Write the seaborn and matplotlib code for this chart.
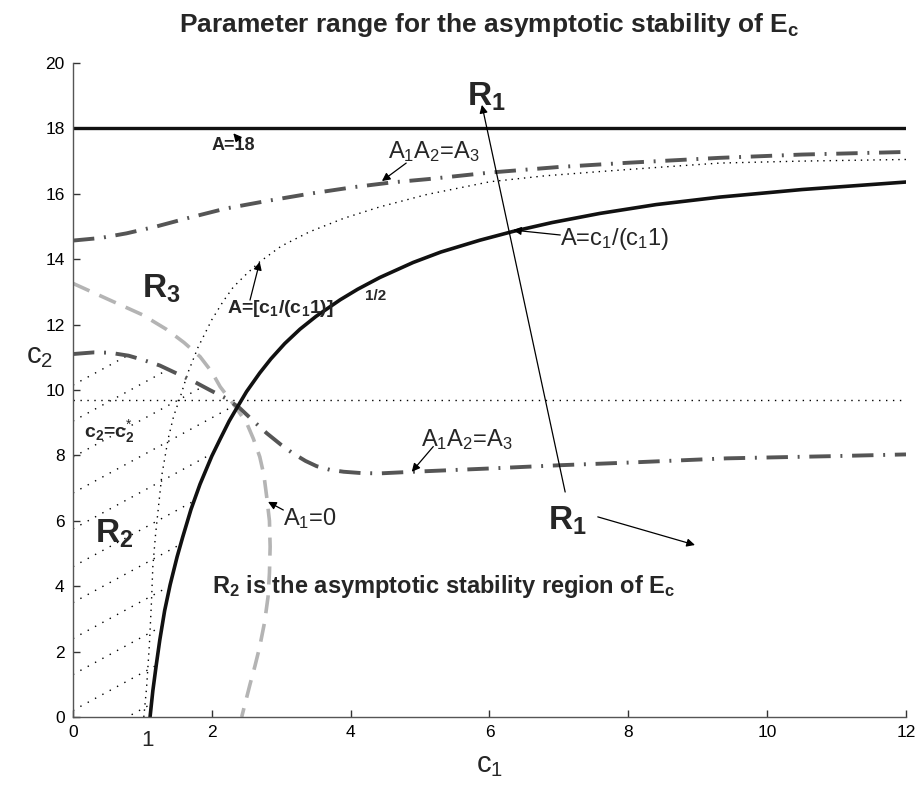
import numpy as np
import matplotlib
matplotlib.use("Agg")
import matplotlib.pyplot as plt
from matplotlib.patches import Polygon
import seaborn as sns

# ---------------- data ----------------
# solid curve A = c1/(c1-1)
solid_c1 = [1.11, 1.15, 1.2, 1.25, 1.32, 1.40, 1.5, 1.58, 1.7, 1.83, 2.0, 2.12, 2.25, 2.36, 2.5, 2.69, 2.85, 3.05,
            3.27, 3.5, 3.85, 4.1, 4.42, 4.9, 5.3, 5.86, 6.34, 6.9, 7.59, 8.4, 9.32, 10.5, 12.0]
solid_c2 = [0.0, 0.8, 1.6, 2.35, 3.25, 4.05, 4.9, 5.5, 6.35, 7.12, 7.98, 8.5, 9.05, 9.45, 9.95, 10.52, 10.95, 11.42,
            11.86, 12.25, 12.76, 13.08, 13.44, 13.9, 14.22, 14.58, 14.85, 15.12, 15.4, 15.67, 15.9, 16.13, 16.36]

# upper dash-dot curve A1A2 = A3
upper_c1 = [0, 0.4, 0.77, 1.2, 1.64, 2.2, 2.79, 3.4, 4.03, 4.6, 5.12, 6.01, 7.0, 8.0, 9.32, 10.5, 12.0]
upper_c2 = [14.57, 14.65, 14.79, 15.0, 15.25, 15.55, 15.78, 16.0, 16.2, 16.35, 16.45, 16.65, 16.82, 16.95, 17.1, 17.2, 17.28]

# lower dash-dot curve A1A2 = A3
lower_c1 = [0, 0.3, 0.53, 0.8, 1.01, 1.25, 1.49, 1.75, 1.97, 2.2, 2.4, 2.6, 2.79, 3.0, 3.17, 3.35, 3.51, 3.7, 3.9,
            4.15, 4.42, 4.9, 6.0, 7.02, 8.0, 9.42, 11.0, 12.0]
lower_c2 = [11.1, 11.15, 11.14, 11.05, 10.92, 10.75, 10.51, 10.25, 10.0, 9.75, 9.45, 9.05, 8.68, 8.32, 8.06, 7.83, 7.67,
            7.56, 7.5, 7.46, 7.45, 7.5, 7.6, 7.7, 7.78, 7.91, 7.98, 8.03]

# dotted curve A = [c1/(c1-1)]^(1/2)
sqrt_c1 = [1.02, 1.06, 1.1, 1.13, 1.15, 1.19, 1.24, 1.28, 1.37, 1.45, 1.54, 1.65, 1.8, 2.0, 2.16, 2.31, 2.5, 2.69,
           3.0, 3.41, 3.9, 4.42, 5.1, 6.01, 6.8, 7.59, 8.5, 9.32, 10.5, 12.0]
sqrt_c2 = [0.0, 0.9, 2.2, 3.5, 4.6, 5.6, 6.6, 7.4, 8.5, 9.2, 9.75, 10.5, 11.3, 12.15, 12.7, 13.15, 13.55, 13.92,
           14.4, 14.84, 15.25, 15.6, 15.98, 16.37, 16.55, 16.68, 16.82, 16.94, 17.0, 17.05]

# light dashed curve A1 = 0
a1_c1 = [0, 0.53, 1.0, 1.35, 1.6, 1.83, 2.0, 2.12, 2.3, 2.5, 2.6, 2.69, 2.75, 2.79, 2.83, 2.84, 2.83, 2.81, 2.76,
         2.69, 2.62, 2.55, 2.49, 2.43]
a1_c2 = [13.26, 12.75, 12.3, 11.85, 11.45, 11.02, 10.55, 10.1, 9.6, 9.0, 8.5, 7.96, 7.4, 6.74, 6.0, 5.21, 4.4, 3.68,
         2.9, 2.15, 1.55, 1.0, 0.5, 0.0]

# horizontal lines
A_level = 18.0
c2_star = 9.69

# hatch lines in region R2 (intercepts on the c2 axis, common slope)
hatch_b = [-0.9, 0.2, 1.3, 2.4, 3.5, 4.6, 5.75, 6.85, 7.95, 9.05, 10.15, 11.25]
hatch_slope = 1.15

xticks = [0, 2, 4, 6, 8, 10, 12]
yticks = [0, 2, 4, 6, 8, 10, 12, 14, 16, 18, 20]

# ---------------- figure ----------------
sns.set_theme(style="ticks")
plt.rcParams['font.family'] = ['Liberation Sans', 'DejaVu Sans']
plt.rcParams['mathtext.fontset'] = 'custom'
plt.rcParams['mathtext.rm'] = 'Liberation Sans'
plt.rcParams['mathtext.bf'] = 'Liberation Sans:bold'
plt.rcParams['mathtext.it'] = 'Liberation Sans'

fig = plt.figure(figsize=(9.18, 7.87), dpi=100)
ax = fig.add_axes([73/918, 1 - 717/787, (906-73)/918, (717-63)/787])

# hatch lines, clipped to the R2 region
sc1 = np.array(solid_c1); sc2 = np.array(solid_c2)
lc1 = np.array(lower_c1); lc2 = np.array(lower_c2)
m_s = sc1 <= 2.4
m_l = lc1 <= 2.4
poly_pts = [(0, 0)] + list(zip(sc1[m_s], sc2[m_s])) + list(zip(lc1[m_l][::-1], lc2[m_l][::-1]))
clip = Polygon(poly_pts, closed=True, transform=ax.transData, facecolor='none', edgecolor='none')
ax.add_patch(clip)
hx = np.array([0.0, 3.0])
for b in hatch_b:
    ln, = ax.plot(hx, b + hatch_slope * hx, color='black', lw=1.0, ls=(0, (1, 5)))
    ln.set_clip_path(clip)

# horizontal lines
ax.axhline(A_level, color='#111111', lw=2.4)
ax.axhline(c2_star, color='black', lw=1.0, ls=(0, (1, 4)))

sns.lineplot(x=sqrt_c1, y=sqrt_c2, sort=False, estimator=None, ax=ax,
             color='black', lw=1.0, ls=(0, (1, 3.5)))
sns.lineplot(x=a1_c1, y=a1_c2, sort=False, estimator=None, ax=ax,
             color='#b4b4b4', lw=2.6, ls=(0, (5, 3)))
sns.lineplot(x=upper_c1, y=upper_c2, sort=False, estimator=None, ax=ax,
             color='#555555', lw=2.8, ls=(0, (5.5, 2.5, 0.5, 2.5)))
sns.lineplot(x=lower_c1, y=lower_c2, sort=False, estimator=None, ax=ax,
             color='#555555', lw=2.8, ls=(0, (5.5, 2.5, 0.5, 2.5)))
sns.lineplot(x=solid_c1, y=solid_c2, sort=False, estimator=None, ax=ax,
             color='#111111', lw=2.6)

ax.set_xlim(0, 12)
ax.set_ylim(0, 20)
ax.set_xticks(xticks)
ax.set_yticks(yticks)
ax.tick_params(direction='in', length=5, width=1, colors='#333333', labelsize=12.5,
               labelcolor='black', pad=6)
sns.despine(ax=ax)
for s in ['left', 'bottom']:
    ax.spines[s].set_color('#555555')
    ax.spines[s].set_linewidth(1.0)

ax.set_xlabel('c$_1$', fontsize=21, labelpad=8)
ax.set_ylabel('c$_2$', fontsize=21, rotation=0, labelpad=14)
ax.yaxis.set_label_coords(-0.04, 0.53)
ax.set_title('Parameter range for the asymptotic stability of E$_\\mathbf{c}$',
             fontsize=19, fontweight='bold', pad=22)

# extra "1" under the axis
ax.text(1.07, -0.02, '1', transform=ax.get_xaxis_transform(), ha='center', va='top',
        fontsize=16)

bold = dict(fontweight='bold')
ax.text(5.68, 18.7, 'R$_\\mathbf{1}$', fontsize=24, **bold)
ax.text(6.84, 5.72, 'R$_\\mathbf{1}$', fontsize=24, **bold)
ax.text(1.0, 12.84, 'R$_\\mathbf{3}$', fontsize=24, **bold)
ax.text(0.32, 5.32, 'R$_\\mathbf{2}$', fontsize=24, **bold)
ax.text(2.0, 17.34, 'A=18', fontsize=13, **bold)
ax.text(0.16, 8.57, 'c$_\\mathbf{2}$=c$_\\mathbf{2}^{*}$', fontsize=14, **bold)
ax.text(2.0, 3.8, 'R$_\\mathbf{2}$ is the asymptotic stability region of E$_\\mathbf{c}$',
        fontsize=17, **bold)
ax.text(2.22, 12.35, 'A=[c$_\\mathbf{1}$/(c$_\\mathbf{1}$1)]', fontsize=14, **bold)
ax.text(4.2, 12.75, '1/2', fontsize=11, **bold)
ax.text(4.54, 17.1, 'A$_1$A$_2$=A$_3$', fontsize=17)
ax.text(5.02, 8.27, 'A$_1$A$_2$=A$_3$', fontsize=17)
ax.text(7.02, 14.43, 'A=c$_1$/(c$_1$1)', fontsize=17)
ax.text(3.03, 5.87, 'A$_1$=0', fontsize=17)

arrow = dict(arrowstyle='-|>', color='black', lw=0.9, mutation_scale=12, shrinkA=0, shrinkB=0)
ann = [((7.09, 6.88), (5.89, 18.72)),
       ((7.56, 6.12), (8.96, 5.26)),
       ((2.41, 17.6), (2.31, 17.85)),
       ((4.80, 16.94), (4.45, 16.39)),
       ((7.02, 14.74), (6.34, 14.89)),
       ((2.55, 12.75), (2.69, 13.92)),
       ((3.03, 6.33), (2.81, 6.58)),
       ((5.19, 8.27), (4.88, 7.5))]
for tail, tip in ann:
    ax.annotate('', xy=tip, xytext=tail, arrowprops=arrow)

fig.savefig('out.png', dpi=100)
